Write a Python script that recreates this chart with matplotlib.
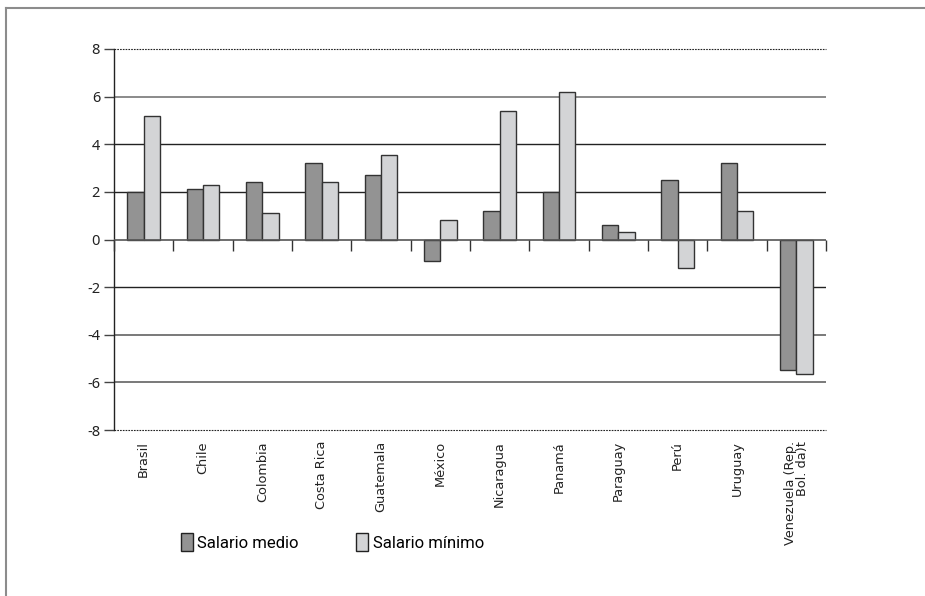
import numpy as np
import matplotlib
matplotlib.use("Agg")
import matplotlib.pyplot as plt
from matplotlib.patches import Patch
from matplotlib.lines import Line2D

# datos
paises = ['Brasil', 'Chile', 'Colombia', 'Costa Rica', 'Guatemala', 'México',
          'Nicaragua', 'Panamá', 'Paraguay', 'Perú', 'Uruguay',
          'Venezuela (Rep.\nBol. da)t']
salario_medio = [2.0, 2.1, 2.4, 3.2, 2.7, -0.9, 1.2, 2.0, 0.6, 2.5, 3.2, -5.5]
salario_minimo = [5.2, 2.3, 1.1, 2.4, 3.55, 0.8, 5.4, 6.2, 0.3, -1.2, 1.2, -5.65]
yticks = [-8, -6, -4, -2, 0, 2, 4, 6, 8]

c_medio = '#939393'
c_minimo = '#d3d4d6'

fig = plt.figure(figsize=(9.25, 5.96), dpi=100)
ax = fig.add_axes([114 / 925, 1 - 430 / 596, 712 / 925, 381 / 596])

x = np.arange(len(paises))
w = 0.275
ax.bar(x - w / 2, salario_medio, w, color=c_medio, edgecolor='#333333', linewidth=1.0, zorder=3)
ax.bar(x + w / 2, salario_minimo, w, color=c_minimo, edgecolor='#333333', linewidth=1.0, zorder=3)

ax.set_xlim(-0.5, len(paises) - 0.5)
ax.set_ylim(-8, 8)

# lineas de cuadricula
for v in yticks:
    if v in (8, -8):
        ax.axhline(v, color='#222222', lw=0.8, ls=(0, (1.5, 1)), zorder=1, clip_on=False)
    elif v == 0:
        continue
    elif v == 6:
        ax.axhline(v, color='#8a8a8a', lw=1.4, zorder=1)
    elif v in (-4, -6):
        ax.axhline(v, color='#555555', lw=1.1, zorder=1)
    else:
        ax.axhline(v, color='#222222', lw=1.0, zorder=1)

# eje en cero con marcas entre categorias
ax.axhline(0, color='#555555', lw=1.2, zorder=4)
ax.plot(np.arange(len(paises) + 1) - 0.5, np.zeros(len(paises) + 1), ls='none',
        marker=3, markersize=8, markeredgewidth=1.0, color='#333333', zorder=4, clip_on=False)

for s in ['top', 'right', 'bottom']:
    ax.spines[s].set_visible(False)
ax.spines['left'].set_color('#222222')
ax.spines['left'].set_linewidth(1.0)

ax.set_yticks(yticks)
ax.set_yticklabels([str(v) for v in yticks], fontsize=10.5, family='Noto Sans', color='#222222')
ax.tick_params(axis='y', length=7, width=1.0, color='#444444', pad=3)

ax.set_xticks(x)
ax.set_xticklabels(paises, rotation=90, fontsize=9.3, family='DejaVu Sans',
                   color='#222222', multialignment='right', va='top', linespacing=0.95)
ax.tick_params(axis='x', length=0, pad=8)

# leyenda
handles = [Patch(facecolor=c_medio, edgecolor='#222222', label='Salario medio'),
           Patch(facecolor=c_minimo, edgecolor='#222222', label='Salario mínimo')]
fig.legend(handles=handles, loc='center left', bbox_to_anchor=(181 / 925, 1 - 542 / 596),
           ncol=2, frameon=False, borderpad=0, borderaxespad=0, handlelength=0.7,
           handleheight=1.2, handletextpad=0.28, columnspacing=3.45,
           prop={'family': 'Roboto', 'size': 12})

# marco de la figura
fig.add_artist(Line2D([5.5 / 925, 1], [1 - 7.5 / 596, 1 - 7.5 / 596], color='#8c8c8c', lw=1.5))
fig.add_artist(Line2D([5.5 / 925, 5.5 / 925], [0, 1 - 7.5 / 596], color='#8c8c8c', lw=1.5))

fig.savefig('out.png', dpi=100)
